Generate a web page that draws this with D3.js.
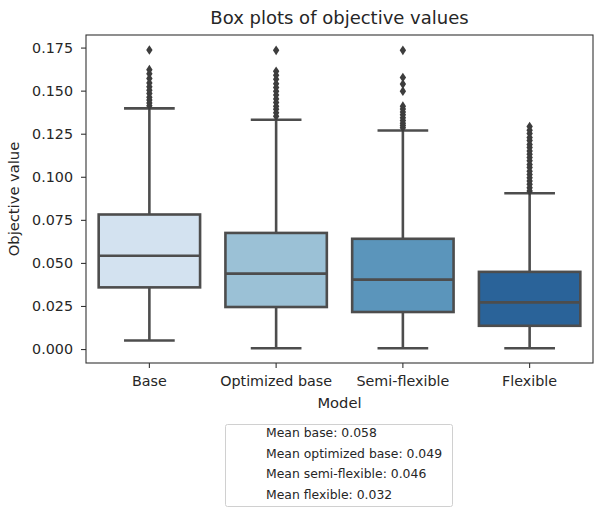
<!DOCTYPE html>
<html>
<head>
<meta charset="utf-8">
<script src="https://cdn.jsdelivr.net/npm/d3@7"></script>
<style>
  html, body { margin: 0; padding: 0; background: #fff; }
  svg { display: block; font-family: "DejaVu Sans", sans-serif; }
</style>
</head>
<body>
<svg id="chart" width="594" height="507"></svg>
<script>
// Model categories and their box-plot summaries
const models = ["Base", "Optimized base", "Semi-flexible", "Flexible"];
const q1 = [0.0358, 0.0244, 0.0215, 0.0135];
const median = [0.0542, 0.0438, 0.0403, 0.0271];
const q3 = [0.0781, 0.0674, 0.0640, 0.0448];
const whiskerLow = [0.0050, 0.0005, 0.0005, 0.0005];
const whiskerHigh = [0.1397, 0.1331, 0.1269, 0.0904];
const outliersBase = [0.1736, 0.1622, 0.1598, 0.1571, 0.1545, 0.1522, 0.1503, 0.1484, 0.1462, 0.1445, 0.1428, 0.1412];
const outliersOptimized = [0.1734, 0.1612, 0.1590, 0.1566, 0.1540, 0.1518, 0.1496, 0.1475, 0.1452, 0.1431, 0.1410, 0.1392, 0.1372, 0.1352];
const outliersSemi = [0.1734, 0.1576, 0.1538, 0.1497, 0.1410, 0.1393, 0.1376, 0.1360, 0.1343, 0.1326, 0.1311, 0.1298, 0.1285];
const outliersFlexible = [0.1292, 0.1270, 0.1251, 0.1228, 0.1210, 0.1188, 0.1170, 0.1149, 0.1131, 0.1112, 0.1093, 0.1071, 0.1054, 0.1032, 0.1013, 0.0994, 0.0975, 0.0956, 0.0937, 0.0918];
const outliers = [outliersBase, outliersOptimized, outliersSemi, outliersFlexible];
const boxColors = ["#d3e2f0", "#9bc1d6", "#5b95bb", "#2a6399"];
const yTicks = [0.000, 0.025, 0.050, 0.075, 0.100, 0.125, 0.150, 0.175];
const meanLines = ["Mean base: 0.058", "Mean optimized base: 0.049", "Mean semi-flexible: 0.046", "Mean flexible: 0.032"];

const svg = d3.select("#chart");
const plot = { left: 86, right: 593, top: 35, bottom: 363 };
const lineColor = "#4d4d4d";

const x = d3.scaleBand().domain(models).range([plot.left, plot.right]).padding(0);
const y = d3.scaleLinear().domain([-0.0081, 0.1823]).range([plot.bottom, plot.top]);
const boxW = x.bandwidth() * 0.8;

// Boxes, whiskers, medians and fliers
models.forEach((m, i) => {
  const cx = x(m) + x.bandwidth() / 2;
  const g = svg.append("g");
  const wStyle = sel => sel.attr("stroke", lineColor).attr("stroke-width", 2.6).attr("fill", "none");
  g.append("line").attr("x1", cx).attr("x2", cx).attr("y1", y(q3[i])).attr("y2", y(whiskerHigh[i])).call(wStyle);
  g.append("line").attr("x1", cx).attr("x2", cx).attr("y1", y(q1[i])).attr("y2", y(whiskerLow[i])).call(wStyle);
  g.append("line").attr("x1", cx - boxW / 4).attr("x2", cx + boxW / 4)
    .attr("y1", y(whiskerHigh[i])).attr("y2", y(whiskerHigh[i])).call(wStyle);
  g.append("line").attr("x1", cx - boxW / 4).attr("x2", cx + boxW / 4)
    .attr("y1", y(whiskerLow[i])).attr("y2", y(whiskerLow[i])).call(wStyle);
  g.append("rect")
    .attr("x", cx - boxW / 2).attr("width", boxW)
    .attr("y", y(q3[i])).attr("height", y(q1[i]) - y(q3[i]))
    .attr("fill", boxColors[i]).attr("stroke", lineColor).attr("stroke-width", 2.6);
  g.append("line").attr("x1", cx - boxW / 2).attr("x2", cx + boxW / 2)
    .attr("y1", y(median[i])).attr("y2", y(median[i])).call(wStyle);
  const diamond = "M0,-4.8L3.2,0L0,4.8L-3.2,0Z";
  g.selectAll("path.flier").data(outliers[i]).join("path")
    .attr("class", "flier")
    .attr("d", diamond)
    .attr("transform", d => `translate(${cx},${y(d)})`)
    .attr("fill", "#3d3d3d");
});

// Axes
const yAxis = d3.axisLeft(y).tickValues(yTicks).tickFormat(d3.format(".3f")).tickSize(5).tickPadding(8);
const gy = svg.append("g").attr("transform", `translate(${plot.left},0)`).call(yAxis);
const xAxis = d3.axisBottom(x).tickSize(5).tickPadding(8);
const gx = svg.append("g").attr("transform", `translate(0,${plot.bottom})`).call(xAxis);
[gx, gy].forEach(g => {
  g.select(".domain").remove();
  g.selectAll(".tick line").attr("stroke", "#333").attr("stroke-width", 1.1);
  g.selectAll(".tick text").attr("fill", "#262626").attr("font-size", 14.3)
    .attr("font-family", "DejaVu Sans, sans-serif");
});

// Frame
svg.append("rect")
  .attr("x", plot.left).attr("y", plot.top)
  .attr("width", plot.right - plot.left).attr("height", plot.bottom - plot.top)
  .attr("fill", "none").attr("stroke", "#333").attr("stroke-width", 1.1);

// Titles
svg.append("text").attr("x", (plot.left + plot.right) / 2).attr("y", 24)
  .attr("text-anchor", "middle").attr("font-size", 18).attr("fill", "#262626")
  .text("Box plots of objective values");
svg.append("text").attr("x", (plot.left + plot.right) / 2).attr("y", 408)
  .attr("text-anchor", "middle").attr("font-size", 14.7).attr("fill", "#262626")
  .text("Model");
svg.append("text")
  .attr("transform", `translate(19,${(plot.top + plot.bottom) / 2}) rotate(-90)`)
  .attr("text-anchor", "middle").attr("font-size", 14.7).attr("fill", "#262626")
  .text("Objective value");

// Means box below the chart
const legend = svg.append("g");
legend.append("rect").attr("x", 225.5).attr("y", 424.5).attr("width", 227).attr("height", 82)
  .attr("rx", 2).attr("fill", "#fff").attr("stroke", "#d0d0d0").attr("stroke-width", 1);
legend.selectAll("text").data(meanLines).join("text")
  .attr("x", 266).attr("y", (d, i) => 437 + i * 20.6)
  .attr("font-size", 12.4).attr("fill", "#262626")
  .text(d => d);
</script>
</body>
</html>
